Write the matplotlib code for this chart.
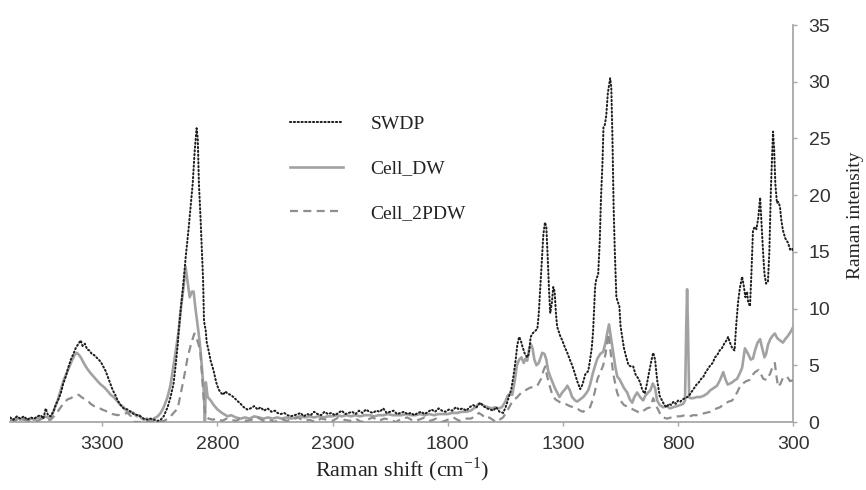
import matplotlib
matplotlib.use("Agg")
import matplotlib.pyplot as plt

# ---------------- data ----------------
swdp_x = [3700, 3685, 3670, 3655, 3640, 3625, 3610, 3595, 3580, 3567, 3555, 3545, 3535, 3523, 3510, 3502,
          3490, 3480, 3470, 3458, 3447, 3436, 3425, 3415, 3403, 3393, 3385, 3375, 3365, 3355, 3345, 3335,
          3325, 3315, 3306, 3293, 3285, 3276, 3263, 3254, 3241, 3233, 3220, 3207, 3189, 3176, 3163, 3146,
          3133, 3120, 3103, 3090, 3075, 3059, 3046, 3033, 3016, 3003, 2990, 2981, 2972, 2968, 2959, 2946,
          2938, 2925, 2916, 2907, 2898, 2890, 2885, 2880, 2873, 2866, 2862, 2858, 2855, 2851, 2846, 2838,
          2829, 2816, 2805, 2795, 2786, 2775, 2765, 2756, 2743, 2730, 2715, 2699, 2685, 2670, 2656, 2640,
          2625, 2613, 2597, 2582, 2565, 2550, 2539, 2525, 2510, 2495, 2482, 2465, 2450, 2439, 2425, 2410,
          2395, 2380, 2365, 2350, 2335, 2320, 2305, 2290, 2275, 2260, 2245, 2230, 2215, 2200, 2185, 2170,
          2155, 2140, 2125, 2110, 2095, 2080, 2065, 2050, 2035, 2020, 2005, 1990, 1975, 1960, 1945, 1930,
          1915, 1900, 1885, 1870, 1855, 1840, 1825, 1810, 1795, 1780, 1765, 1750, 1735, 1720, 1705, 1690,
          1675, 1660, 1645, 1630, 1615, 1602, 1590, 1575, 1559, 1545, 1535, 1525, 1515, 1505, 1498, 1490,
          1483, 1475, 1465, 1455, 1448, 1440, 1432, 1422, 1411, 1405, 1398, 1390, 1385, 1378, 1372, 1366,
          1360, 1355, 1348, 1342, 1336, 1330, 1325, 1312, 1303, 1290, 1281, 1268, 1260, 1247, 1238, 1225,
          1215, 1203, 1190, 1182, 1175, 1169, 1160, 1155, 1147, 1140, 1135, 1128, 1124, 1118, 1112, 1105,
          1095, 1090, 1085, 1080, 1075, 1068, 1062, 1055, 1050, 1045, 1035, 1025, 1015, 1005, 995, 985,
          975, 965, 955, 945, 935, 925, 915, 908, 900, 891, 880, 870, 860, 850, 840, 830,
          820, 810, 800, 790, 780, 770, 760, 750, 740, 730, 720, 710, 700, 690, 680, 670,
          660, 650, 640, 630, 620, 610, 600, 590, 583, 575, 565, 555, 548, 540, 532, 522,
          515, 508, 501, 496, 488, 482, 475, 467, 460, 452, 444, 438, 431, 425, 418, 410,
          404, 397, 392, 388, 383, 378, 371, 365, 358, 352, 345, 335, 323, 314, 305, 300]
swdp_y = [0.4, 0.2, 0.5, 0.3, 0.5, 0.2, 0.4, 0.3, 0.5, 0.6, 0.3, 1.2, 0.6, 0.5, 1.0, 1.5,
          2.0, 2.5, 3.3, 4.0, 4.8, 5.5, 6.0, 6.5, 6.9, 7.2, 6.7, 6.9, 6.4, 6.3, 6.0, 5.9,
          5.7, 5.5, 5.3, 4.8, 4.5, 4.0, 3.3, 2.8, 2.3, 1.9, 1.5, 1.2, 1.1, 0.9, 0.7, 0.6,
          0.5, 0.3, 0.2, 0.3, 0.2, 0.1, 0.2, 0.5, 1.3, 2.2, 3.4, 5.0, 6.8, 8.0, 9.9, 12.5,
          14.4, 17.0, 19.0, 21.0, 24.0, 25.9, 25.0, 21.0, 18.0, 14.5, 12.6, 9.0, 8.5, 8.2, 7.0, 6.3,
          5.4, 4.5, 3.5, 2.9, 2.6, 2.4, 2.7, 2.5, 2.4, 2.2, 1.9, 1.6, 1.3, 1.1, 1.2, 1.4,
          1.1, 1.3, 1.0, 1.2, 0.9, 1.0, 0.8, 0.7, 0.8, 0.6, 0.5, 0.6, 0.7, 0.8, 0.5, 0.7,
          0.6, 0.9, 0.7, 0.6, 0.9, 0.7, 0.8, 0.6, 0.8, 1.0, 0.7, 0.8, 0.9, 0.7, 1.0, 0.8,
          1.1, 0.9, 0.8, 1.0, 0.9, 1.2, 0.8, 0.9, 1.0, 0.7, 0.8, 0.9, 0.7, 0.8, 0.6, 0.8,
          0.9, 0.7, 0.9, 1.1, 0.9, 1.2, 1.0, 0.9, 1.1, 1.0, 1.3, 1.1, 1.2, 1.0, 1.3, 1.5,
          1.3, 1.7, 1.4, 1.2, 1.1, 1.0, 1.3, 0.9, 0.8, 1.5, 2.2, 2.8, 4.0, 5.5, 6.8, 7.5,
          7.2, 6.6, 6.0, 5.7, 6.0, 7.5, 7.8, 8.0, 8.2, 9.5, 12.0, 15.0, 16.5, 17.6, 17.2, 14.5,
          11.5, 9.6, 10.5, 11.9, 11.5, 9.5, 8.4, 7.6, 7.2, 6.5, 6.1, 5.4, 5.0, 4.2, 3.6, 2.9,
          3.3, 4.2, 4.5, 5.5, 6.5, 8.0, 12.0, 12.6, 13.0, 16.0, 19.6, 23.0, 26.0, 26.2, 27.0, 29.0,
          30.3, 29.5, 25.0, 19.0, 15.2, 11.0, 10.6, 10.2, 8.5, 7.8, 6.5, 5.7, 5.0, 4.9, 4.9, 4.2,
          3.9, 3.5, 2.8, 2.5, 3.4, 4.5, 5.5, 6.1, 5.5, 3.7, 2.3, 1.9, 1.5, 1.3, 1.6, 1.5,
          1.8, 1.6, 1.9, 1.8, 2.0, 2.1, 2.2, 2.4, 2.7, 3.0, 3.3, 3.5, 3.8, 4.0, 4.4, 4.7,
          5.0, 5.2, 5.7, 5.9, 6.3, 6.5, 6.9, 7.2, 7.5, 7.0, 6.5, 6.3, 8.5, 10.5, 11.8, 12.8,
          12.0, 11.0, 11.5, 10.6, 10.2, 13.0, 16.9, 17.2, 17.0, 18.0, 19.8, 17.5, 14.9, 13.0, 12.2, 12.4,
          15.0, 20.7, 23.5, 25.6, 24.0, 21.0, 19.3, 19.4, 19.0, 17.8, 16.9, 16.2, 15.8, 15.2, 15.3, 15.0]

dw_x = [3700, 3685, 3670, 3655, 3640, 3625, 3610, 3595, 3580, 3567, 3550, 3535, 3523, 3510, 3493, 3480,
        3467, 3450, 3436, 3420, 3410, 3400, 3390, 3380, 3365, 3350, 3337, 3320, 3306, 3293, 3275, 3263,
        3250, 3233, 3220, 3207, 3195, 3185, 3176, 3163, 3150, 3140, 3133, 3120, 3105, 3090, 3075, 3059,
        3046, 3033, 3016, 3003, 2990, 2981, 2968, 2959, 2946, 2938, 2930, 2920, 2910, 2903, 2895, 2881,
        2873, 2864, 2858, 2854, 2850, 2842, 2829, 2816, 2799, 2780, 2756, 2740, 2720, 2699, 2680, 2660,
        2640, 2620, 2600, 2580, 2560, 2540, 2520, 2500, 2480, 2460, 2440, 2420, 2400, 2380, 2360, 2340,
        2320, 2300, 2280, 2260, 2240, 2220, 2200, 2180, 2160, 2140, 2120, 2100, 2080, 2060, 2040, 2020,
        2000, 1980, 1960, 1940, 1920, 1900, 1880, 1860, 1840, 1820, 1800, 1780, 1760, 1740, 1720, 1700,
        1680, 1665, 1655, 1640, 1625, 1610, 1595, 1580, 1565, 1550, 1540, 1530, 1520, 1510, 1500, 1490,
        1480, 1470, 1462, 1455, 1448, 1440, 1432, 1424, 1415, 1405, 1398, 1390, 1380, 1372, 1365, 1355,
        1345, 1335, 1325, 1315, 1303, 1290, 1281, 1270, 1260, 1247, 1238, 1225, 1212, 1200, 1190, 1182,
        1170, 1160, 1150, 1138, 1125, 1115, 1108, 1100, 1092, 1082, 1072, 1064, 1055, 1045, 1035, 1021,
        1010, 999, 990, 978, 965, 952, 943, 930, 920, 910, 900, 891, 880, 865, 850, 835,
        822, 805, 790, 778, 770, 765, 761, 757, 752, 748, 735, 718, 704, 690, 674, 660,
        645, 631, 618, 604, 595, 585, 574, 565, 553, 544, 530, 522, 510, 496, 485, 475,
        465, 455, 444, 435, 425, 418, 410, 400, 390, 380, 370, 358, 345, 335, 323, 310, 300]
dw_y = [0.3, 0.2, 0.4, 0.2, 0.3, 0.2, 0.3, 0.2, 0.4, 0.3, 0.5, 0.4, 0.4, 1.0, 1.9, 2.8,
        3.7, 4.5, 5.2, 5.9, 6.1, 5.9, 5.6, 5.2, 4.7, 4.3, 4.0, 3.6, 3.3, 3.1, 2.7, 2.4,
        2.2, 1.8, 1.5, 1.3, 1.0, 0.8, 0.9, 0.8, 0.5, 0.6, 0.4, 0.2, 0.3, 0.1, 0.3, 0.5,
        0.8, 1.3, 2.2, 3.3, 5.0, 6.2, 8.0, 9.9, 12.0, 13.7, 12.5, 11.0, 11.5, 11.5, 10.0, 7.8,
        6.3, 4.0, 2.5, 0.0, 3.5, 2.2, 1.9, 1.5, 1.1, 0.8, 0.5, 0.6, 0.4, 0.3, 0.4, 0.3,
        0.5, 0.4, 0.3, 0.4, 0.3, 0.4, 0.3, 0.4, 0.3, 0.4, 0.5, 0.4, 0.5, 0.4, 0.5, 0.4,
        0.5, 0.5, 0.6, 0.5, 0.6, 0.5, 0.6, 0.5, 0.6, 0.6, 0.5, 0.6, 0.6, 0.7, 0.6, 0.6,
        0.6, 0.7, 0.6, 0.6, 0.7, 0.6, 0.7, 0.6, 0.7, 0.7, 0.7, 0.8, 0.8, 0.9, 0.9, 1.0,
        1.3, 1.6, 1.6, 1.4, 1.3, 1.2, 1.3, 1.2, 1.3, 1.8, 2.3, 2.5, 2.4, 3.5, 5.0, 5.5,
        5.7, 5.2, 5.6, 5.4, 6.3, 6.9, 6.5, 5.5, 5.0, 5.2, 5.6, 6.1, 6.0, 5.5, 4.6, 4.0,
        3.5, 3.0, 2.6, 2.2, 2.6, 2.9, 3.2, 2.8, 2.2, 1.9, 1.8, 2.0, 2.2, 2.5, 2.8, 3.3,
        4.3, 5.0, 5.6, 6.0, 6.2, 7.0, 7.8, 8.6, 7.5, 6.1, 4.8, 4.0, 3.8, 3.4, 3.0, 2.6,
        2.0, 1.7, 2.2, 2.6, 2.2, 1.9, 2.3, 2.6, 2.8, 3.4, 3.0, 1.9, 1.5, 1.3, 1.4, 1.2,
        1.3, 1.4, 1.5, 1.6, 1.9, 8.0, 11.7, 8.0, 2.2, 2.1, 2.1, 2.2, 2.2, 2.3, 2.5, 2.8,
        3.0, 3.2, 3.7, 4.4, 3.8, 3.3, 3.4, 3.5, 3.7, 3.8, 4.4, 4.8, 6.5, 6.0, 5.5, 5.6,
        6.4, 7.0, 7.3, 6.5, 5.7, 6.0, 6.8, 7.3, 7.6, 7.8, 7.4, 7.2, 7.0, 7.3, 7.6, 8.0, 8.4]

pdw_x = [3700, 3680, 3660, 3640, 3620, 3600, 3580, 3560, 3540, 3523, 3505, 3490, 3480, 3465, 3450, 3436,
         3420, 3402, 3390, 3375, 3363, 3350, 3335, 3319, 3300, 3276, 3255, 3233, 3210, 3189, 3175, 3165,
         3140, 3100, 3060, 3030, 3003, 2990, 2972, 2959, 2946, 2929, 2915, 2900, 2893, 2881, 2873, 2866,
         2860, 2851, 2838, 2820, 2800, 2780, 2760, 2740, 2720, 2700, 2675, 2650, 2625, 2600, 2575, 2550,
         2525, 2500, 2475, 2450, 2425, 2400, 2375, 2350, 2325, 2300, 2275, 2250, 2225, 2200, 2175, 2150,
         2125, 2100, 2075, 2050, 2025, 2000, 1975, 1950, 1925, 1900, 1875, 1850, 1825, 1800, 1775, 1750,
         1725, 1700, 1680, 1665, 1650, 1635, 1620, 1605, 1590, 1575, 1560, 1541, 1520, 1498, 1480, 1463,
         1445, 1430, 1411, 1395, 1385, 1377, 1368, 1355, 1346, 1333, 1325, 1310, 1290, 1270, 1255, 1238,
         1225, 1212, 1200, 1182, 1170, 1160, 1150, 1135, 1125, 1115, 1103, 1095, 1082, 1065, 1051, 1035,
         1015, 995, 975, 965, 950, 935, 921, 908, 895, 887, 875, 865, 848, 830, 810, 791,
         770, 750, 735, 718, 700, 680, 661, 645, 631, 618, 600, 580, 565, 544, 530, 518,
         505, 490, 479, 466, 450, 440, 430, 414, 400, 388, 380, 375, 366, 355, 345, 327, 314, 300]
pdw_y = [0.2, 0.1, 0.3, 0.2, 0.1, 0.2, 0.1, 0.3, 0.2, 0.2, 0.6, 1.0, 1.3, 1.7, 2.0, 2.1,
         2.3, 2.4, 2.2, 2.0, 1.9, 1.6, 1.4, 1.3, 1.1, 0.9, 0.7, 0.6, 0.7, 0.8, 0.5, 0.0,
         0.0, 0.0, 0.0, 0.1, 0.5, 0.8, 1.2, 2.5, 3.8, 5.7, 6.8, 7.8, 7.6, 6.8, 6.0, 4.0,
         2.2, 0.5, 0.3, 0.2, 0.3, 0.1, 0.3, 0.2, 0.1, 0.3, 0.1, 0.2, 0.4, 0.1, 0.2, 0.0,
         0.3, 0.1, 0.2, 0.4, 0.1, 0.2, 0.0, 0.3, 0.2, 0.1, 0.4, 0.2, 0.1, 0.3, 0.0, 0.2,
         0.4, 0.1, 0.3, 0.2, 0.0, 0.3, 0.4, 0.1, 0.2, 0.4, 0.1, 0.3, 0.0, 0.2, 0.4, 0.1,
         0.3, 0.3, 0.5, 0.8, 0.6, 0.3, 0.4, 0.2, 0.0, 0.2, 0.4, 1.0, 1.8, 2.2, 2.6, 2.8,
         3.0, 3.1, 3.2, 3.8, 4.5, 4.9, 4.0, 3.0, 2.4, 2.0, 1.9, 1.7, 1.6, 1.4, 1.3, 1.2,
         1.0, 0.9, 1.1, 1.3, 2.0, 2.8, 3.8, 4.5, 5.0, 6.0, 7.8, 6.5, 4.3, 2.6, 1.9, 1.5,
         1.3, 1.1, 0.9, 0.8, 1.0, 1.2, 1.3, 2.1, 1.4, 1.1, 0.6, 0.4, 0.3, 0.4, 0.5, 0.5,
         0.6, 0.5, 0.6, 0.6, 0.7, 0.8, 0.9, 1.1, 1.2, 1.3, 1.6, 1.8, 1.9, 2.6, 3.2, 3.4,
         3.6, 3.7, 4.1, 4.4, 4.6, 4.2, 3.8, 3.7, 4.3, 5.0, 5.2, 4.3, 3.1, 3.4, 3.9, 4.0, 3.6, 3.7]

labels = ["SWDP", "Cell_DW", "Cell_2PDW"]
x_ticks = [3300, 2800, 2300, 1800, 1300, 800, 300]
y_ticks = [0, 5, 10, 15, 20, 25, 30, 35]

# ---------------- figure ----------------
W, H = 866, 490
fig = plt.figure(figsize=(W / 100, H / 100), dpi=100)
ax = fig.add_axes([10 / W, 68 / H, (793.3 - 10) / W, (422 - 25) / H])

serif = ["Liberation Serif", "DejaVu Serif"]
sans = ["Liberation Sans", "DejaVu Sans"]

l_dw, = ax.plot(dw_x, dw_y, color="#a2a2a2", lw=1.9, solid_joinstyle="round", zorder=2)
l_pdw, = ax.plot(pdw_x, pdw_y, color="#8e8e8e", lw=1.6, dashes=(3.6, 2.4), zorder=3)
l_sw, = ax.plot(swdp_x, swdp_y, color="#1e1e1e", lw=1.45, dashes=(0.6, 1.3),
                dash_capstyle="round", zorder=4)

ax.set_xlim(3700, 300)
ax.set_ylim(0, 35)
ax.set_xticks(x_ticks)
ax.set_yticks(y_ticks)

for s in ["top", "left"]:
    ax.spines[s].set_visible(False)
for s in ["bottom", "right"]:
    ax.spines[s].set_color("#a8a8a8")
    ax.spines[s].set_linewidth(1.3)

ax.yaxis.tick_right()
ax.yaxis.set_label_position("right")
ax.tick_params(axis="both", direction="out", length=3, width=1.0, color="#a8a8a8",
               labelcolor="#333333", labelsize=14)
ax.tick_params(axis="x", pad=7)
ax.tick_params(axis="y", pad=8)
for t in ax.get_xticklabels() + ax.get_yticklabels():
    t.set_family(sans)

ax.set_xlabel("Raman shift (cm$^{\\mathregular{-1}}$)", family=serif, fontsize=16, color="#222222")
ax.xaxis.set_label_coords(0.5, -0.085)
ax.set_ylabel("Raman intensity", family=serif, fontsize=14, color="#222222")
ax.yaxis.set_label_coords(1.068, 0.52)

leg = ax.legend([l_sw, l_dw, l_pdw], labels, loc="upper left",
                bbox_to_anchor=(290 / W, 1 - 115 / H), bbox_transform=fig.transFigure,
                frameon=False, prop={"family": serif, "size": 14},
                handlelength=2.7, handletextpad=1.45, labelspacing=1.4,
                borderpad=0, borderaxespad=0)
for t in leg.get_texts():
    t.set_color("#222222")

fig.savefig("out.png", dpi=100)
